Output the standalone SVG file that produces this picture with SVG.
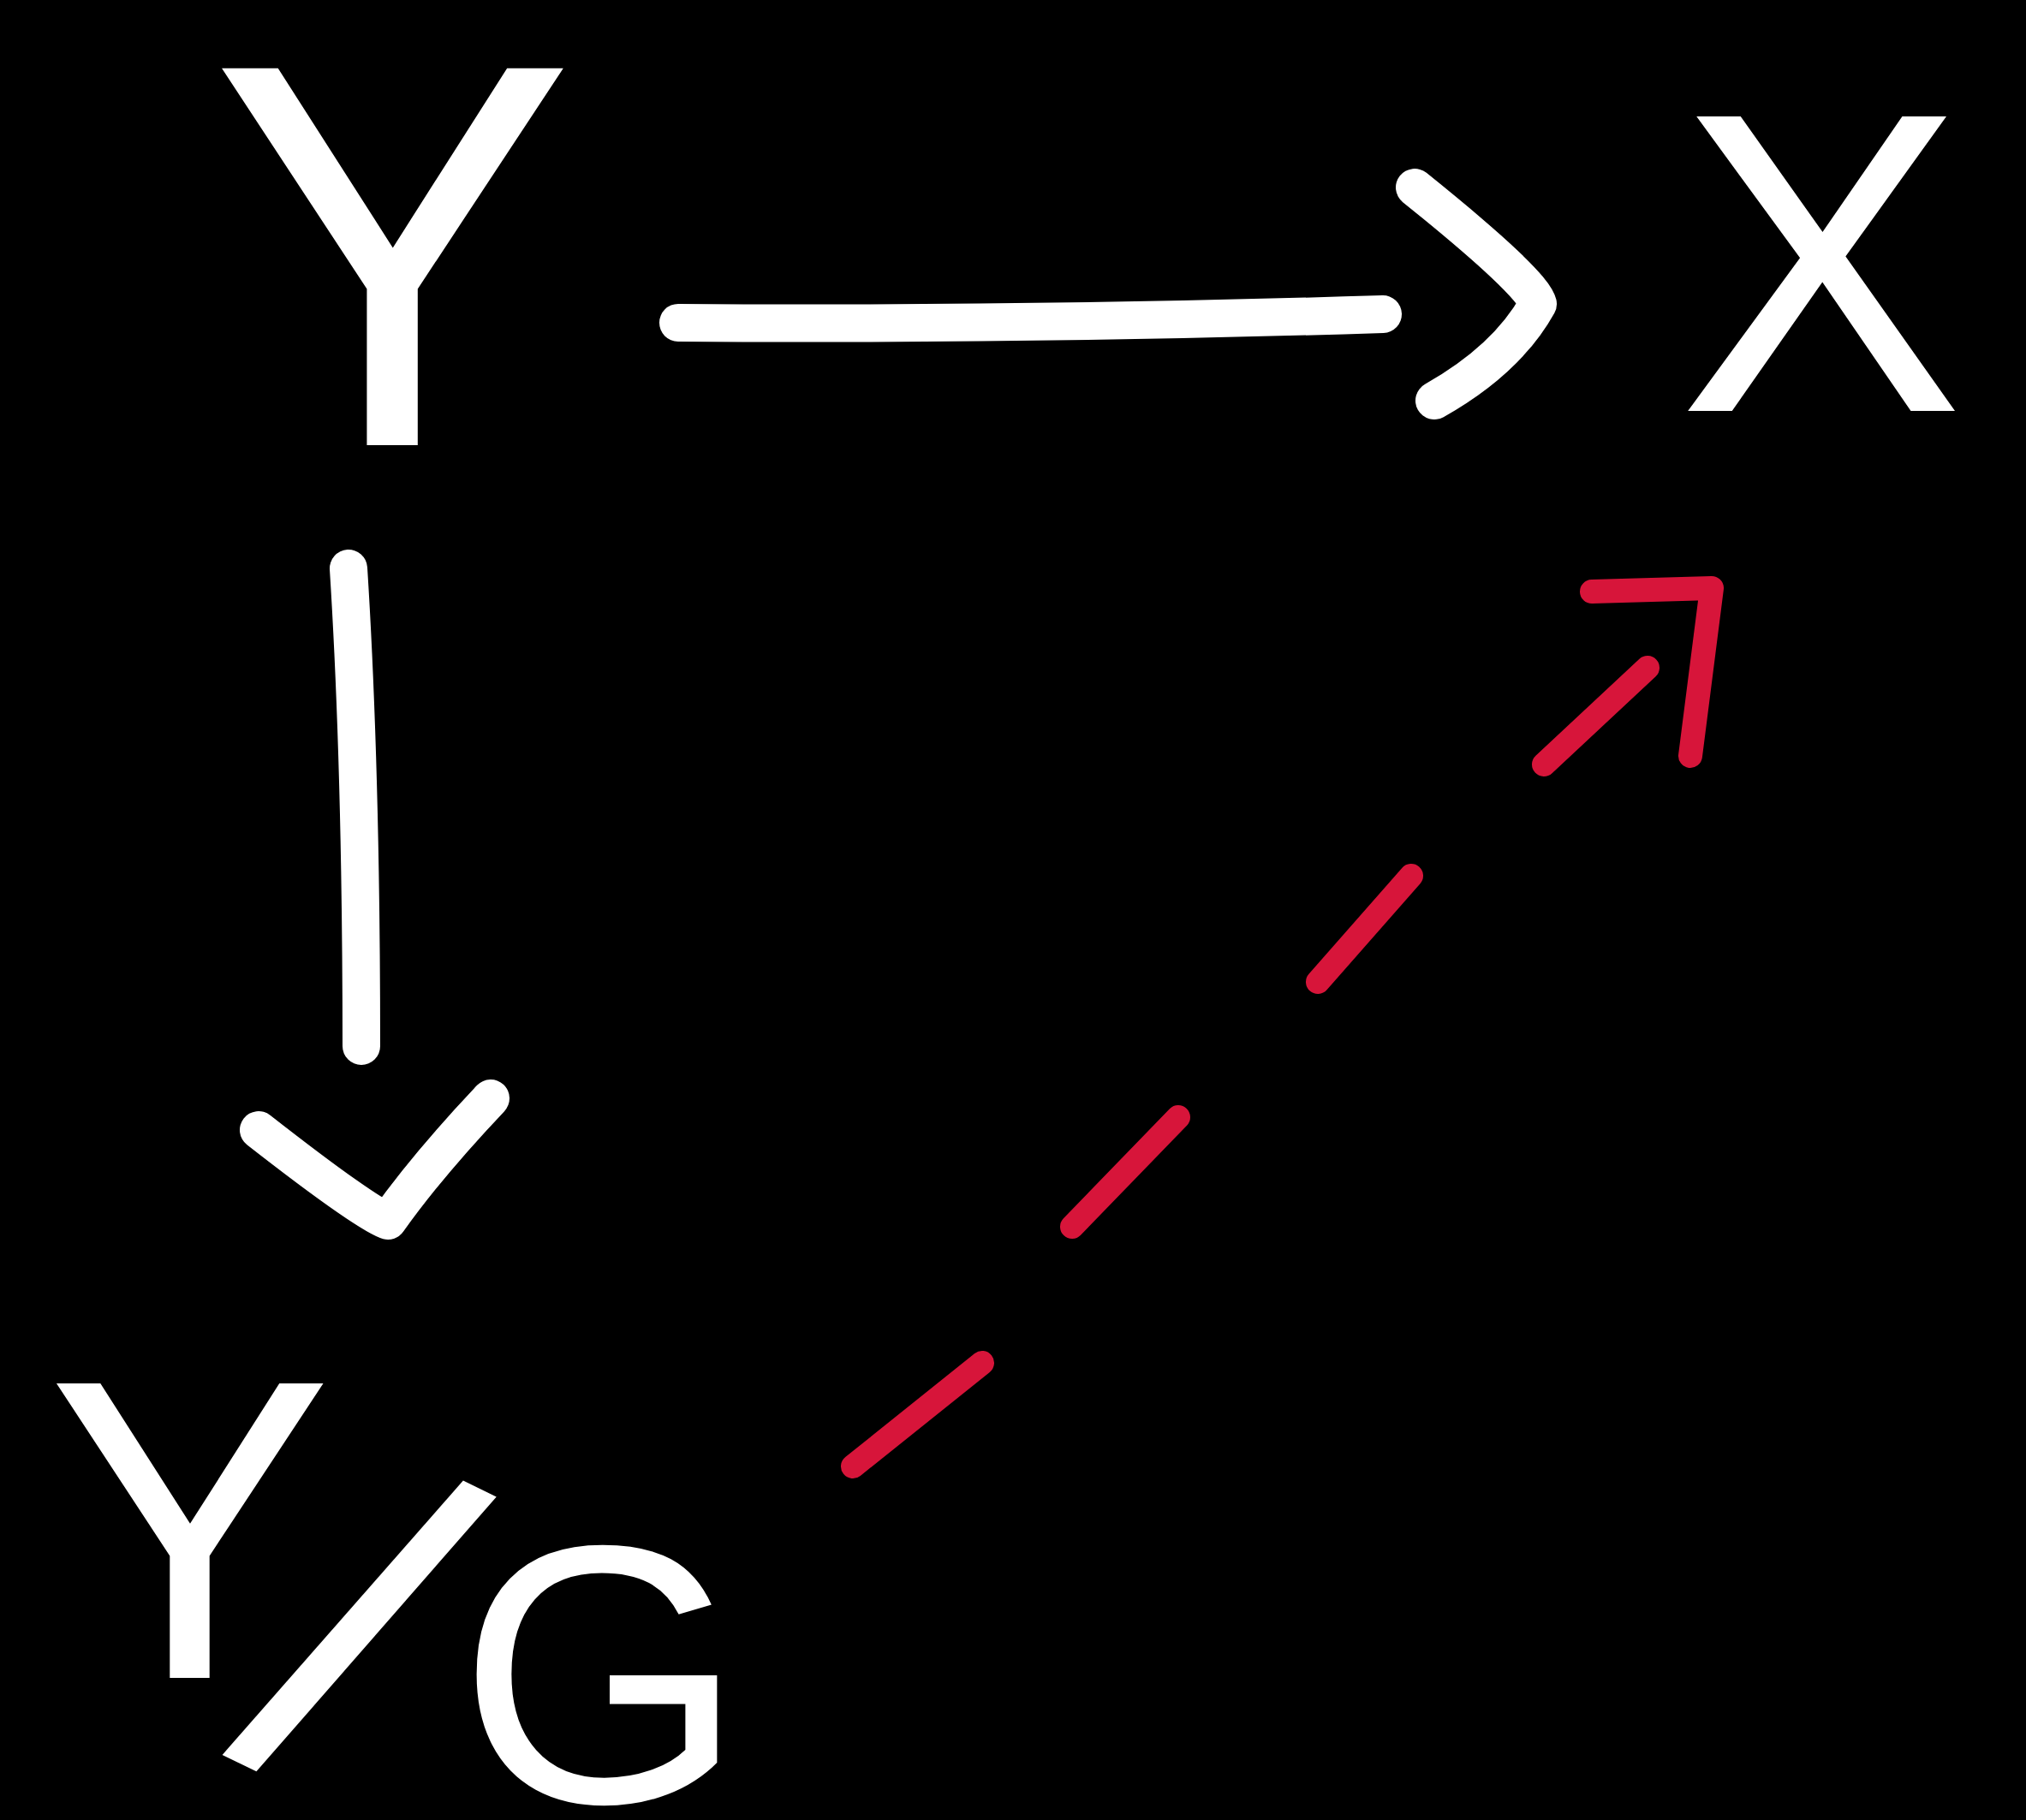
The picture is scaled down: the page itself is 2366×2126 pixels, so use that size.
<svg xmlns="http://www.w3.org/2000/svg" width="2366" height="2126" viewBox="0 0 2366 2126">
<style>
.lbl{fill:#fff;font-family:"Liberation Sans","DejaVu Sans",sans-serif;}
.w{fill:none;stroke:#fff;stroke-width:44;stroke-linecap:round;stroke-linejoin:round;}
.r{fill:none;stroke:#d7153a;stroke-width:28;stroke-linecap:round;stroke-linejoin:round;}
</style>
<rect width="2366" height="2126" fill="#000"/>
<g id="node-Y"><text class="lbl" x="245" y="520" font-size="640">Y</text></g>
<g id="node-X"><text class="lbl" x="1960" y="480" font-size="500">X</text></g>
<g id="node-YG"><text class="lbl" font-size="500"><tspan x="55" y="1960">Y</tspan><tspan x="262" y="2045" font-size="560" rotate="26">/</tspan><tspan x="535" y="2105" font-size="430">G</tspan></text></g>
<g id="connectors">
<path class="w" d="M792 377 Q1200 380 1615 367"/>
<path class="w" d="M1652 219 Q1790 330 1796 355 Q1760 420 1675 468"/>
<path class="w" d="M407 664 Q422 900 422 1222"/>
<path class="w" d="M302 1320 Q430 1420 453 1426 Q500 1360 573 1283"/>
<path class="r" d="M996 1713 L1147 1592 M1252 1433 L1376 1305 M1539 1147 L1648 1023 M1803 893 L1924 780"/>
<path class="r" d="M1859 691 L1999 687 L1974 883"/>
</g>
</svg>
